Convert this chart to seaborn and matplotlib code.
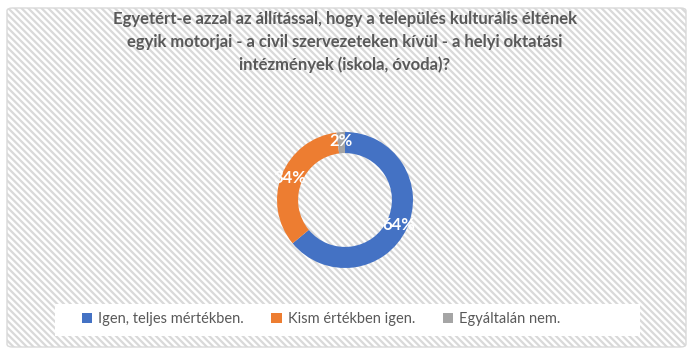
import matplotlib
matplotlib.use("Agg")
import matplotlib.pyplot as plt
import seaborn as sns
from matplotlib.patches import Rectangle, FancyBboxPatch

# Data
categories = ["Igen, teljes mértékben.", "Kism értékben igen.", "Egyáltalán nem."]
values = [64, 34, 2]
colors = ["#4472C4", "#ED7D31", "#A5A5A5"]
title = ("Egyetért-e azzal az állítással, hogy a település kulturális éltének\n"
         "egyik motorjai - a civil szervezeteken kívül - a helyi oktatási\n"
         "intézmények (iskola, óvoda)?")

sns.set_theme(style="white")
plt.rcParams["font.family"] = ["Lato", "DejaVu Sans"]
plt.rcParams["hatch.linewidth"] = 1.6
plt.rcParams["hatch.color"] = "#F2F2F2"

W, H = 692, 352
fig = plt.figure(figsize=(W / 100, H / 100), dpi=100)
fig.patch.set_facecolor("white")

# striped chart background + border
bg = FancyBboxPatch((7 / W, 5 / H), 679 / W, 339 / H, boxstyle="round,pad=0,rounding_size=0.008",
                    transform=fig.transFigure, facecolor="white", edgecolor="#D9D9D9",
                    linewidth=1.0, hatch="\\\\\\\\\\", zorder=-2)
fig.patches.append(bg)

# white legend box
fig.patches.append(Rectangle((55 / W, (H - 336) / H), 585 / W, 32 / H,
                             transform=fig.transFigure, facecolor="white",
                             edgecolor="none", zorder=-1))

cx, cy, r = 345, 200, 68
ax = fig.add_axes([(cx - r) / W, (H - cy - r) / H, 2 * r / W, 2 * r / H])
ax.set_zorder(2)
ax.set_facecolor("none")
wedges, _, autotexts = ax.pie(values, colors=colors, startangle=90, counterclock=False,
                              radius=1.0, wedgeprops=dict(width=0.31, linewidth=0),
                              autopct="%1.0f%%", pctdistance=0.87)
for t in autotexts:
    t.set_color("white")
    t.set_fontweight("bold")
    t.set_fontsize(12)
ax.set_xlim(-1, 1)
ax.set_ylim(-1, 1)
ax.set_aspect("equal")
ax.axis("off")

fig.text(cx / W, 1 - 11 / H, title, ha="center", va="top", fontsize=12,
         fontweight="bold", color="#595959", linespacing=1.5, zorder=3)

leg = fig.legend(wedges, categories, loc="center", bbox_to_anchor=(321 / W, 1 - 319 / H),
                 ncol=3, frameon=False, fontsize=10.5, handlelength=0.7, handleheight=0.7,
                 handletextpad=0.4, columnspacing=1.9, labelcolor="#595959")
leg.set_zorder(3)

fig.savefig("out.png", dpi=100, facecolor="white")
